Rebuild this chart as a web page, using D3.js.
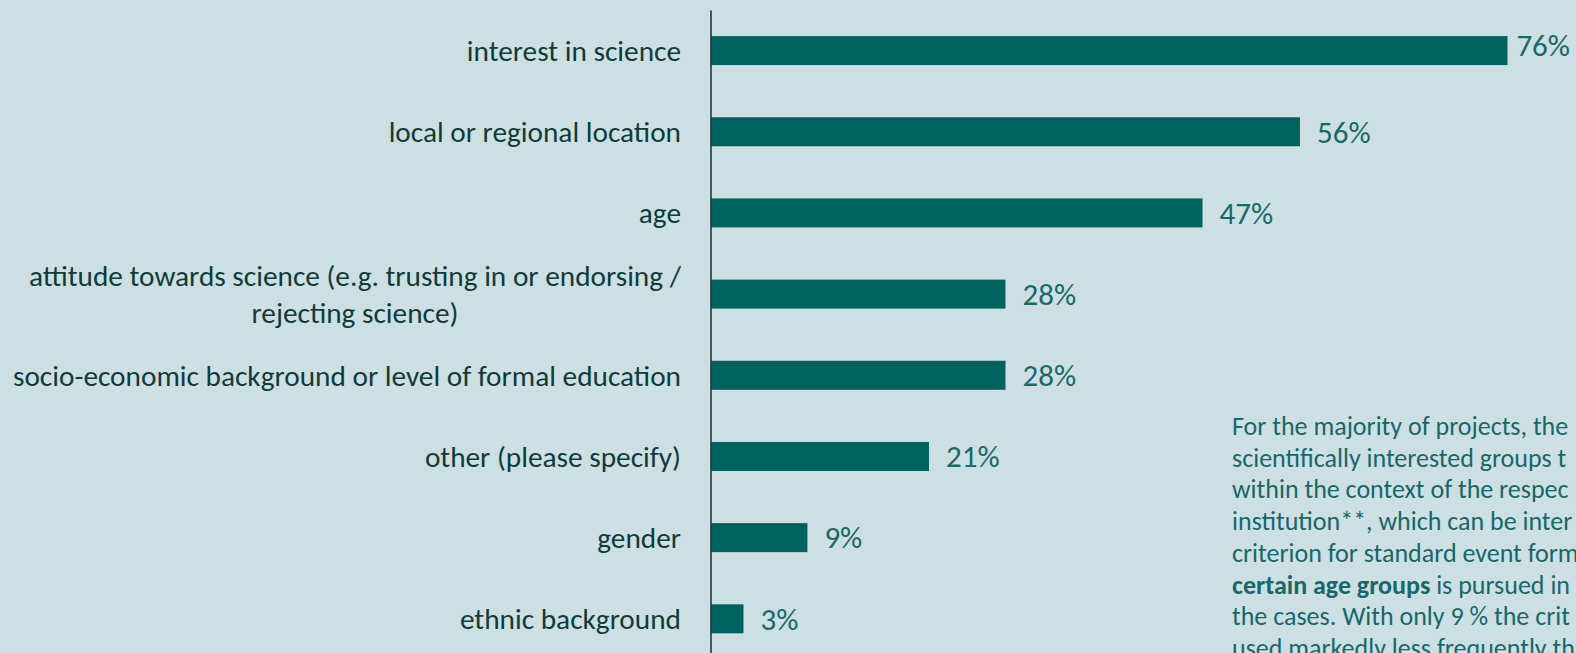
<!DOCTYPE html>
<html>
<head>
<meta charset="utf-8">
<script src="https://cdn.jsdelivr.net/npm/d3@7"></script>
<style>
  html, body { margin: 0; padding: 0; background: #cddfe2; overflow: hidden; }
  svg { display: block; }
</style>
</head>
<body>
<svg id="chart" width="1576" height="653"></svg>
<script>
// ---- data ----
const categories = [
  "interest in science",
  "local or regional location",
  "age",
  "attitude towards science (e.g. trusting in or endorsing /|rejecting science)",
  "socio-economic background or level of formal education",
  "other (please specify)",
  "gender",
  "ethnic background"
];
const values = [76, 56.2, 46.9, 28.1, 28.1, 20.8, 9.2, 3.1];
const valueLabels = ["76%", "56%", "47%", "28%", "28%", "21%", "9%", "3%"];
const noteLines = [
  [["For the majority of projects, the", false]],
  [["scientifically interested groups t", false]],
  [["within the context of the respec", false]],
  [["institution**, which can be inter", false]],
  [["criterion for standard event form", false]],
  [["certain age groups", true], [" is pursued in", false]],
  [["the cases. With only 9 % the crit", false]],
  [["used markedly less frequently th", false]]
];

// ---- layout ----
const W = 1576, H = 653;
const FONT = "Carlito, Lato, 'Open Sans', sans-serif";
const svg = d3.select("#chart");
svg.append("rect").attr("width", W).attr("height", H).attr("fill", "#cddfe2");

const x = d3.scaleLinear().domain([0, 100]).range([711, 711 + 1048]);
const y = d3.scaleBand().domain(categories).range([10, 659.4])
  .paddingInner(0.643).paddingOuter(0.3215);

// bars
svg.append("g").selectAll("rect").data(categories).join("rect")
  .attr("x", x(0))
  .attr("y", d => y(d))
  .attr("width", (d, i) => x(values[i]) - x(0))
  .attr("height", y.bandwidth())
  .attr("fill", "#00625f");

// axis
const axis = svg.append("g").attr("transform", `translate(${x(0) - 0.5},0)`)
  .call(d3.axisLeft(y).tickSize(0).tickSizeOuter(0).tickFormat(""));
axis.select(".domain").attr("stroke", "#1b3b3b").attr("stroke-width", 1.6);

// category labels
const labelRight = 681;
const lg = svg.append("g");
categories.forEach((c, i) => {
  const lines = c.split("|");
  const cy = y(c) + y.bandwidth() / 2;
  const lh = 37.5;
  const t = lg.append("text")
    .attr("font-family", FONT).attr("font-size", 29.3)
    .attr("fill", "#0f3c3b");
  lines.forEach((l, k) => {
    t.append("tspan").text(l)
      .attr("y", cy + (k - (lines.length - 1) / 2) * lh)
      .attr("dy", "0.35em");
  });
  if (lines.length === 1) {
    t.attr("text-anchor", "end").selectAll("tspan").attr("x", labelRight);
  } else {
    let maxW = 0;
    t.selectAll("tspan").each(function () { maxW = Math.max(maxW, this.getComputedTextLength()); });
    t.attr("text-anchor", "middle").selectAll("tspan").attr("x", labelRight - maxW / 2);
  }
});

// value labels
const vg = svg.append("g");
categories.forEach((c, i) => {
  const cy = y(c) + y.bandwidth() / 2;
  const t = vg.append("text")
    .attr("font-family", FONT).attr("font-size", 31)
    .attr("fill", "#17696b")
    .attr("dy", "0.35em")
    .text(valueLabels[i]);
  const tw = t.node().getComputedTextLength();
  let lx = x(values[i]) + 17;
  let ly = cy;
  if (lx + tw > W - 6) { lx = W - 6 - tw; ly = cy - 5; }
  t.attr("x", lx).attr("y", ly);
});

// annotation
const ng = svg.append("g");
noteLines.forEach((parts, k) => {
  const t = ng.append("text")
    .attr("font-family", FONT).attr("font-size", 26)
    .attr("fill", "#16686c")
    .attr("x", 1232).attr("y", 435 + k * 31.7);
  parts.forEach(([s, b]) => {
    t.append("tspan").text(s).attr("font-weight", b ? "bold" : "normal");
  });
});
</script>
</body>
</html>
